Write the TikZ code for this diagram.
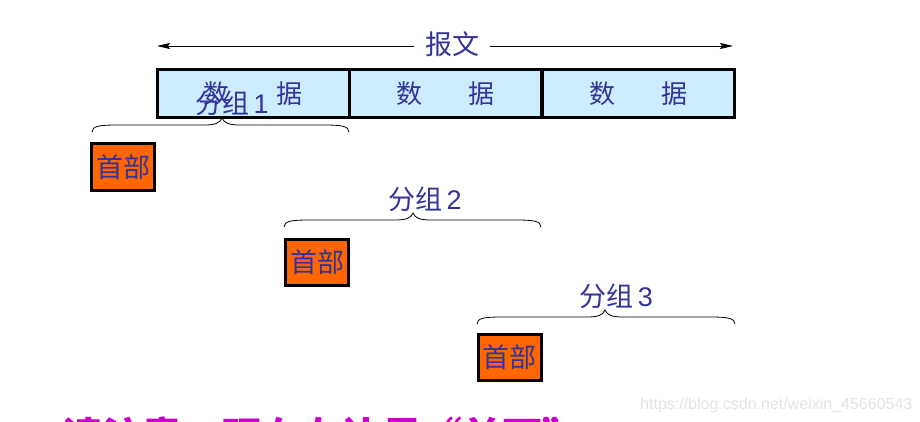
\documentclass[tikz,border=0pt]{standalone}
\usepackage{fontspec}
\setmainfont{Liberation Sans}
\newfontfamily\cjk{Noto Sans CJK SC}
\usetikzlibrary{arrows.meta}
\definecolor{txtblue}{HTML}{333399}
\definecolor{datafill}{HTML}{CCECFF}
\definecolor{hdrfill}{HTML}{FF6600}
\definecolor{noteclr}{HTML}{CC00CC}
\definecolor{wmark}{HTML}{E4E4E4}
\newcommand{\pktbrace}[4]{%
  \draw[line width=0.8pt] (#1,#4+14) .. controls (#1,#4+8) and (#1+8,#4+7) .. (#1+25,#4+7)
    -- (#3-18,#4+7) .. controls (#3-7,#4+7) and (#3-2,#4+5) .. (#3,#4)
    .. controls (#3+2,#4+5) and (#3+7,#4+7) .. (#3+18,#4+7)
    -- (#2-25,#4+7) .. controls (#2-8,#4+7) and (#2,#4+8) .. (#2,#4+14);}
\begin{document}
\begin{tikzpicture}[x=1pt,y=-1pt,
  databox/.style={draw=black,line width=3pt,fill=datafill,minimum width=192pt,minimum height=48pt,inner sep=0pt,text=txtblue,font=\cjk\fontsize{26}{30}\selectfont},
  hdrbox/.style={draw=black,line width=3pt,fill=hdrfill,minimum width=63pt,minimum height=46pt,inner sep=0pt,text=txtblue,font=\cjk\fontsize{27}{30}\selectfont},
  pktlabel/.style={anchor=base,inner sep=0pt,text=txtblue,font=\fontsize{27}{30}\selectfont},
  msglabel/.style={fill=white,inner xsep=11pt,inner ysep=2pt,text=txtblue,font=\cjk\fontsize{27}{30}\selectfont}]
\useasboundingbox (0,0) rectangle (920,422);
\clip (0,0) rectangle (920,422);
% message arrow
\coordinate (aL) at (157,46);
\coordinate (aR) at (733,46);
\draw[line width=0.8pt,{Stealth[length=13pt,width=6pt,inset=2pt]}-{Stealth[length=13pt,width=6pt,inset=2pt]}] (aL) -- (aR);
\node[msglabel] (msg) at (452,44) {报文};
% data boxes
\node[databox] (d1) at (253,94) {数\hspace{47pt}据};
\node[databox] (d2) at (445.5,94) {数\hspace{47pt}据};
\node[databox] (d3) at (638.5,94) {数\hspace{47pt}据};
% headers
\node[hdrbox] (h1) at (123,167) {首部};
\node[hdrbox] (h2) at (317,262.5) {首部};
\node[hdrbox] (h3) at (509.5,357) {首部};
% braces
\pktbrace{92}{349}{222}{118}
\pktbrace{284}{541}{413}{213}
\pktbrace{477}{735}{605}{310}
% packet labels
\node[pktlabel] (p1) at (232,114) {{\cjk 分组}\,1};
\node[pktlabel] (p2) at (425,209) {{\cjk 分组}\,2};
\node[pktlabel] (p3) at (616,306) {{\cjk 分组}\,3};
% watermark
\node[anchor=base west,inner sep=0pt,text=wmark,font=\fontsize{16}{18}\selectfont] (wm) at (640,409) {https://blog.csdn.net/weixin\_45660543};
% bottom note (cut off)
\node[anchor=base west,inner sep=0pt,text=noteclr,font=\cjk\bfseries\fontsize{40}{44}\selectfont] (note) at (62,451) {请注意：现在左边是“前面”};
\end{tikzpicture}
\end{document}
